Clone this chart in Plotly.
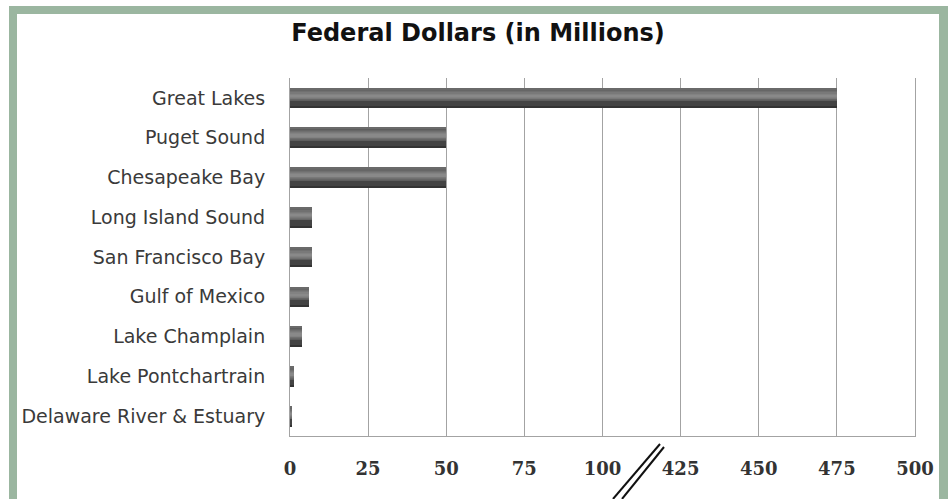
import plotly.graph_objects as go

# Federal funding by geographic program (millions of dollars)
programs = [
    "Great Lakes",
    "Puget Sound",
    "Chesapeake Bay",
    "Long Island Sound",
    "San Francisco Bay",
    "Gulf of Mexico",
    "Lake Champlain",
    "Lake Pontchartrain",
    "Delaware River & Estuary",
]
dollars = [475, 50, 50, 7, 7, 6, 3.8, 1.3, 0.6]

# Broken value axis: 0-100 then 425-500 on one continuous scale
tick_values = [0, 25, 50, 75, 100, 425, 450, 475, 500]
tick_labels = ["0", "25", "50", "75", "100", "425", "450", "475", "500"]
BREAK_LOW, BREAK_HIGH = 100, 400


def to_axis(v):
    """Map a dollar value onto the broken axis."""
    return v if v <= BREAK_LOW else v - (BREAK_HIGH - BREAK_LOW)


axis_x = [to_axis(v) for v in dollars]
axis_ticks = [to_axis(v) for v in tick_values]

# Plot-area geometry in pixels (used for frame and break-mark decorations)
W, H = 949, 499
ML, MR, MT, MB = 290, 34, 78, 63
PW, PH = W - ML - MR, H - MT - MB


def px(xp):
    return (xp - ML) / PW


def py(yp):
    return (H - MB - yp) / PH


# Bars drawn as stacked horizontal stripes to give a rounded, shaded look
# (offset from band centre, thickness, colour); positive offset is upward
stripes = [
    (-0.25, 0.50, "#434343"),
    (0.10, 0.15, "#555555"),
    (-0.08, 0.30, "#5d5d5d"),
    (-0.06, 0.26, "#666666"),
    (-0.04, 0.21, "#707070"),
    (-0.02, 0.16, "#797979"),
    (0.00, 0.11, "#828282"),
    (0.02, 0.06, "#898989"),
    (0.22, 0.03, "#6a6a6a"),
    (-0.25, 0.035, "#333333"),
]

fig = go.Figure()
for off, wid, col in stripes:
    fig.add_trace(
        go.Bar(
            x=axis_x,
            y=programs,
            orientation="h",
            offset=off,
            width=wid,
            marker=dict(color=col, line=dict(width=0)),
            hoverinfo="skip",
            showlegend=False,
        )
    )

shapes = []
frame_color = "#9bb6a0"
# Green frame: left, top, right strips
for x0, y0, x1, y1 in [(9, 6, 17, 499), (9, 6, 948, 14), (939, 6, 948, 499)]:
    shapes.append(
        dict(
            type="rect", xref="paper", yref="paper",
            x0=px(x0), x1=px(x1), y0=py(y1), y1=py(y0),
            fillcolor=frame_color, line=dict(width=0), layer="above",
        )
    )
# Axis break marks between 100 and 425
for x0, y0, x1, y1 in [(613, 499, 660, 444), (622, 499, 664, 447)]:
    shapes.append(
        dict(
            type="line", xref="paper", yref="paper",
            x0=px(x0), y0=py(y0), x1=px(x1), y1=py(y1),
            line=dict(color="#111111", width=2), layer="above",
        )
    )

fig.update_layout(
    width=W,
    height=H,
    margin=dict(l=ML, r=MR, t=MT, b=MB, pad=0),
    paper_bgcolor="white",
    plot_bgcolor="white",
    barmode="overlay",
    bargap=0,
    title=dict(
        text="<b>Federal Dollars (in Millions)</b>",
        x=478 / W,
        xanchor="center",
        y=1 - 33 / H,
        yanchor="middle",
        font=dict(family="DejaVu Sans", size=24, color="#111111"),
    ),
    xaxis=dict(
        range=[0, axis_ticks[-1]],
        tickmode="array",
        tickvals=axis_ticks,
        ticktext=tick_labels,
        showgrid=True,
        gridcolor="#a3a3a3",
        gridwidth=1,
        showline=True,
        linecolor="#a3a3a3",
        linewidth=1,
        zeroline=False,
        ticks="",
        ticklabelstandoff=16,
        tickfont=dict(family="DejaVu Serif", size=18, color="#333333", weight="bold"),
        fixedrange=True,
    ),
    yaxis=dict(
        type="category",
        categoryorder="array",
        categoryarray=list(reversed(programs)),
        showgrid=False,
        showline=True,
        mirror=True,
        linecolor="#a3a3a3",
        linewidth=1,
        zeroline=False,
        ticks="",
        ticklabelstandoff=20,
        tickfont=dict(family="DejaVu Sans", size=19, color="#3a3a3a"),
        fixedrange=True,
    ),
    shapes=shapes,
)

fig.write_html("out.html")
